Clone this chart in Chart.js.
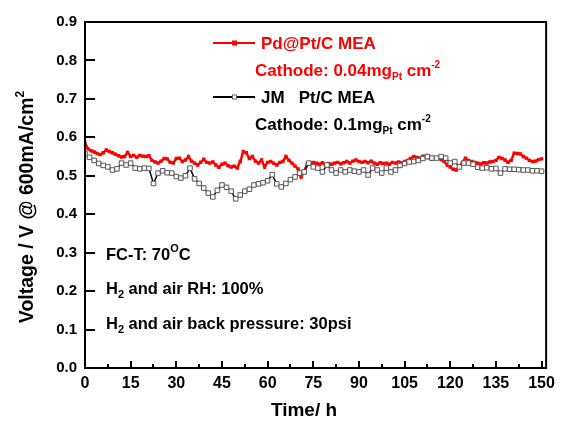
<!DOCTYPE html>
<html>
<head>
<meta charset="utf-8">
<script src="https://cdn.jsdelivr.net/npm/chart.js@4"></script>
<style>
html,body{margin:0;padding:0;background:#fff;}
#wrap{width:561px;height:422px;position:relative;}
</style>
</head>
<body>
<div id="wrap"><canvas id="c" width="561" height="422"></canvas></div>
<script>
// ---- data ----
const redTimes = [0,1,2,3,4,5,6,7,8,9,10,11,12,13,14,15,16,17,18,19,20,21,22,23,24,25,26,27,28,29,30,31,32,33,34,35,36,37,38,39,40,41,42,43,44,45,46,47,48,49,50,51,52,53,54,55,56,57,58,59,60,61,62,63,64,65,66,67,68,69,70,71,72,73,74,75,76,77,78,79,80,81,82,83,84,85,86,87,88,89,90,91,92,93,94,95,96,97,98,99,100,101,102,103,104,105,106,107,108,109,110,111,112,113,114,115,116,117,118,119,120,121,122,123,124,125,126,127,128,129,130,131,132,133,134,135,136,137,138,139,140,141,142,143,144,145,146,147,148,149,150];
const redVolt = [0.585,0.570,0.565,0.562,0.558,0.555,0.560,0.567,0.563,0.560,0.556,0.552,0.549,0.550,0.561,0.550,0.553,0.548,0.553,0.551,0.550,0.552,0.540,0.536,0.533,0.538,0.545,0.544,0.535,0.533,0.545,0.546,0.537,0.541,0.550,0.538,0.533,0.528,0.535,0.543,0.535,0.533,0.536,0.528,0.522,0.530,0.533,0.526,0.523,0.525,0.520,0.537,0.563,0.560,0.545,0.550,0.538,0.533,0.541,0.523,0.535,0.537,0.533,0.528,0.535,0.537,0.550,0.540,0.533,0.525,0.518,0.497,0.512,0.530,0.533,0.535,0.533,0.530,0.534,0.528,0.532,0.530,0.533,0.535,0.531,0.534,0.537,0.533,0.538,0.541,0.537,0.535,0.537,0.534,0.538,0.533,0.530,0.534,0.532,0.533,0.530,0.535,0.533,0.536,0.534,0.537,0.540,0.545,0.550,0.548,0.546,0.551,0.550,0.547,0.543,0.546,0.548,0.542,0.537,0.528,0.523,0.517,0.515,0.525,0.535,0.546,0.540,0.537,0.535,0.533,0.531,0.534,0.533,0.536,0.537,0.540,0.548,0.545,0.541,0.535,0.540,0.559,0.558,0.557,0.550,0.546,0.540,0.537,0.538,0.542,0.544];
const blackTimes = [0,1.5,3,4.5,6,7.5,9,10.5,12,13.5,15,16.5,18,19.5,21,22.5,24,25.5,27,28.5,30,31.5,33,34.5,36,37.5,39,40.5,42,43.5,45,46.5,48,49.5,51,52.5,54,55.5,57,58.5,60,61.5,63,64.5,66,67.5,69,70.5,72,73.5,75,76.5,78,79.5,81,82.5,84,85.5,87,88.5,90,91.5,93,94.5,96,97.5,99,100.5,102,103.5,105,106.5,108,109.5,111,112.5,114,115.5,117,118.5,120,121.5,123,124.5,126,127.5,129,130.5,132,133.5,135,136.5,138,139.5,141,142.5,144,145.5,147,148.5,150];
const blackVolt = [0.557,0.548,0.540,0.532,0.527,0.523,0.515,0.518,0.533,0.528,0.533,0.520,0.518,0.520,0.519,0.480,0.507,0.513,0.508,0.507,0.498,0.494,0.500,0.520,0.492,0.480,0.468,0.455,0.445,0.462,0.476,0.470,0.460,0.440,0.450,0.460,0.465,0.476,0.479,0.482,0.487,0.503,0.479,0.471,0.480,0.490,0.497,0.507,0.510,0.533,0.523,0.520,0.510,0.528,0.515,0.507,0.515,0.510,0.515,0.512,0.510,0.515,0.502,0.520,0.515,0.507,0.520,0.510,0.515,0.527,0.532,0.536,0.537,0.540,0.545,0.550,0.546,0.546,0.550,0.546,0.533,0.537,0.523,0.533,0.533,0.530,0.522,0.520,0.521,0.518,0.519,0.507,0.518,0.517,0.517,0.516,0.515,0.515,0.513,0.513,0.512];
const xMajorTicks = [0,15,30,45,60,75,90,105,120,135,150];
const xMinorTicks = [7.5,22.5,37.5,52.5,67.5,82.5,97.5,112.5,127.5,142.5];
const yTicks = [0,0.1,0.2,0.3,0.4,0.5,0.6,0.7,0.8,0.9];
const redLabel = 'Pd@Pt/C MEA';
const blackLabel = 'JM   Pt/C MEA';
const xTitle = 'Time/ h';
const yTitle = 'Voltage / V @ 600mA/cm';

const FONT = '"Liberation Sans", Arial, sans-serif';

function pts(xs, ys){ return xs.map((x,i)=>({x:x,y:ys[i]})); }

function drawRich(ctx, x, y, segs, color){
  ctx.save();
  ctx.fillStyle = color;
  ctx.textAlign = 'left';
  ctx.textBaseline = 'alphabetic';
  let cx = x;
  segs.forEach(s=>{
    ctx.font = 'bold ' + s.size + 'px ' + FONT;
    ctx.fillText(s.t, cx, y + (s.dy||0));
    cx += ctx.measureText(s.t).width;
  });
  ctx.restore();
}

const framePlugin = {
  id: 'frame',
  afterDraw(chart){
    const ctx = chart.ctx, a = chart.chartArea;
    const xs = chart.scales.x, ys = chart.scales.y;
    ctx.save();
    ctx.strokeStyle = '#000';
    ctx.lineWidth = 2;
    ctx.strokeRect(a.left, a.top, a.right - a.left, a.bottom - a.top);
    ctx.beginPath();
    xMajorTicks.forEach(v=>{ const p = Math.round(xs.getPixelForValue(v)); ctx.moveTo(p, a.bottom); ctx.lineTo(p, a.bottom - 7); });
    xMinorTicks.forEach(v=>{ const p = Math.round(xs.getPixelForValue(v)); ctx.moveTo(p, a.bottom); ctx.lineTo(p, a.bottom - 4); });
    yTicks.forEach(v=>{ const p = Math.round(ys.getPixelForValue(v)); ctx.moveTo(a.left, p); ctx.lineTo(a.left + 10, p); });
    ctx.stroke();

    // legend
    ctx.lineWidth = 2;
    ctx.strokeStyle = '#ff0000';
    ctx.beginPath(); ctx.moveTo(213, 43); ctx.lineTo(255, 43); ctx.stroke();
    ctx.fillStyle = '#ff0000'; ctx.fillRect(232, 40.5, 5, 5);
    ctx.strokeStyle = '#000';
    ctx.beginPath(); ctx.moveTo(213, 97); ctx.lineTo(255, 97); ctx.stroke();
    ctx.fillStyle = '#fff'; ctx.fillRect(232.5, 95, 4, 4);
    ctx.lineWidth = 1; ctx.strokeStyle = '#666'; ctx.strokeRect(232.5, 95, 4, 4);

    // axis titles
    ctx.fillStyle = '#000';
    ctx.font = 'bold 19px ' + FONT;
    ctx.textAlign = 'center';
    ctx.textBaseline = 'middle';
    ctx.fillText(xTitle, 304, 411);
    ctx.font = 'bold 19.5px ' + FONT;
    const w1 = ctx.measureText(yTitle).width;
    ctx.font = 'bold 12px ' + FONT;
    const w2 = ctx.measureText('2').width;
    ctx.restore();
    ctx.save();
    ctx.translate(26, 207);
    ctx.rotate(-Math.PI/2);
    drawRich(ctx, -(w1 + w2)/2, 7, [{t:yTitle,size:19.5},{t:'2',size:12,dy:-9}], '#000');
    ctx.restore();

    drawRich(ctx, 261, 49, [{t:redLabel,size:17}], '#ff0000');
    drawRich(ctx, 255, 76, [{t:'Cathode: 0.04mg',size:17},{t:'Pt',size:10,dy:4},{t:' cm',size:17},{t:'-2',size:10,dy:-8}], '#ff0000');
    drawRich(ctx, 261, 103, [{t:blackLabel,size:17}], '#000');
    drawRich(ctx, 255, 130, [{t:'Cathode: 0.1mg',size:17},{t:'Pt',size:10,dy:4},{t:' cm',size:17},{t:'-2',size:10,dy:-8}], '#000');

    drawRich(ctx, 106, 260, [{t:'FC-T: 70',size:16.5},{t:'O',size:11,dy:-8},{t:'C',size:16.5}], '#000');
    drawRich(ctx, 106, 294, [{t:'H',size:16.5},{t:'2',size:11,dy:4},{t:' and air RH: 100%',size:16.5}], '#000');
    drawRich(ctx, 106, 329, [{t:'H',size:16.5},{t:'2',size:11,dy:4},{t:' and air back pressure: 30psi',size:16.5}], '#000');
  }
};

new Chart(document.getElementById('c'), {
  type: 'line',
  data: {
    datasets: [
      {
        label: blackLabel,
        data: pts(blackTimes, blackVolt),
        borderColor: '#000',
        borderWidth: 1.5,
        pointStyle: 'rect',
        pointRadius: 3.2,
        pointBackgroundColor: '#fff',
        pointBorderColor: '#555',
        pointBorderWidth: 1,
        tension: 0,
        order: 0
      },
      {
        label: redLabel,
        data: pts(redTimes, redVolt),
        borderColor: '#ff0000',
        borderWidth: 2.5,
        pointStyle: 'rect',
        pointRadius: 2.4,
        pointBackgroundColor: '#ff0000',
        pointBorderColor: '#ff0000',
        pointBorderWidth: 0,
        tension: 0,
        order: 1
      }
    ]
  },
  options: {
    responsive: false,
    animation: false,
    events: [],
    layout: { padding: { left: 0, right: 9, top: 22, bottom: 0 } },
    plugins: { legend: { display: false }, tooltip: { enabled: false } },
    scales: {
      x: {
        type: 'linear',
        min: 0, max: 151.5,
        afterBuildTicks(s){ s.ticks = xMajorTicks.map(v=>({value:v})); },
        afterFit(s){ s.height = 54; },
        grid: { display: false, drawTicks: false },
        border: { display: false },
        ticks: { color: '#000', font: { family: FONT, size: 16, weight: 'bold' }, padding: 6, maxRotation: 0, autoSkip: false,
                 callback: v => String(v) },
        title: { display: false }
      },
      y: {
        min: 0, max: 0.9,
        afterBuildTicks(s){ s.ticks = yTicks.map(v=>({value:v})); },
        afterFit(s){ s.width = 85; },
        grid: { display: false, drawTicks: false },
        border: { display: false },
        ticks: { color: '#000', font: { family: FONT, size: 15, weight: 'bold' }, padding: 8, autoSkip: false,
                 callback: v => v.toFixed(1) },
        title: { display: false }
      }
    }
  },
  plugins: [framePlugin]
});
</script>
</body>
</html>
